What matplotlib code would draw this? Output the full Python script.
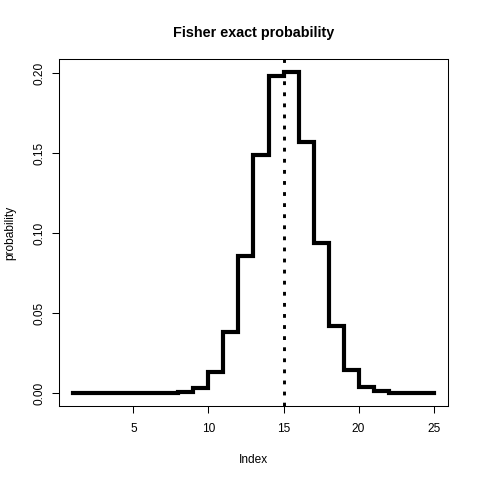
import matplotlib
matplotlib.use("Agg")
import matplotlib.pyplot as plt

# probabilities
index = list(range(1, 26))
probability = [
    0.0, 0.0, 0.0, 0.0, 0.0, 0.0, 0.0001, 0.0008, 0.0033, 0.0131,
    0.0380, 0.0855, 0.1490, 0.1980, 0.2009, 0.1570, 0.0936, 0.0419, 0.0144, 0.0038,
    0.0013, 0.0003, 0.0001, 0.0, 0.0,
]
observed = 15

plt.rcParams["font.family"] = ["Liberation Sans", "DejaVu Sans"]

fig = plt.figure(figsize=(4.8, 4.8), dpi=100)
ax = fig.add_axes([59 / 480, 74 / 480, 389 / 480, 347 / 480])

ax.plot(index, probability, drawstyle="steps-post", color="black", lw=3.0,
        solid_joinstyle="miter")
ax.axvline(observed, color="black", lw=2.1, linestyle=(0, (1.3, 2.5)))

ax.set_xlim(0.04, 25.96)
ax.set_ylim(-0.008, 0.2089)
ax.set_xticks([5, 10, 15, 20, 25])
ax.set_yticks([0.00, 0.05, 0.10, 0.15, 0.20])
ax.set_yticklabels(["0.00", "0.05", "0.10", "0.15", "0.20"], rotation=90, va="center")

ax.tick_params(direction="out", length=5, width=0.75, labelsize=8.6, pad=7)
ax.tick_params(axis="y", pad=5)
for s in ax.spines.values():
    s.set_linewidth(0.75)

ax.set_xlabel("Index", fontsize=8.6, labelpad=14)
ax.set_ylabel("probability", fontsize=8.6, labelpad=12)
ax.set_title("Fisher exact probability", fontsize=10.4, fontweight="bold", pad=16)

fig.savefig("out.png", dpi=100)
